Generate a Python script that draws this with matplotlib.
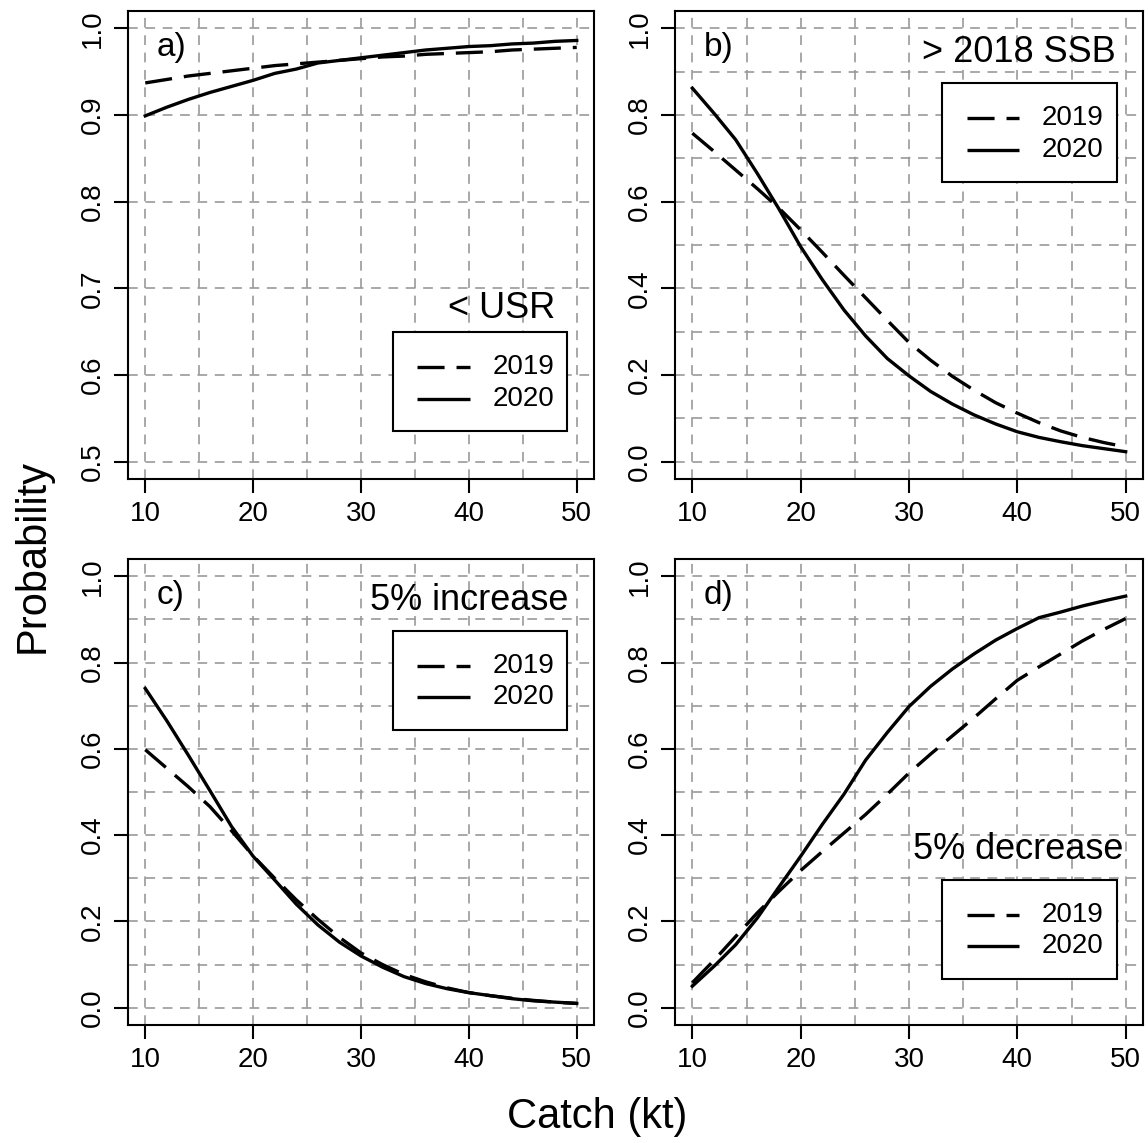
import numpy as np
import matplotlib
matplotlib.use("Agg")
import matplotlib.pyplot as plt
from matplotlib.patches import Rectangle

plt.rcParams['font.family'] = ['Liberation Sans', 'DejaVu Sans']
plt.rcParams['lines.scale_dashes'] = False

# Catch levels (kt)
catch = [10, 12, 14, 16, 18, 20, 22, 24, 26, 28, 30, 32, 34, 36, 38, 40, 42, 44, 46, 48, 50]

# a) probability of being below the upper stock reference
usr_2019 = [0.937, 0.941, 0.945, 0.948, 0.951, 0.954, 0.957, 0.959, 0.961, 0.963, 0.965,
            0.967, 0.968, 0.970, 0.971, 0.972, 0.973, 0.975, 0.976, 0.977, 0.978]
usr_2020 = [0.899, 0.909, 0.918, 0.926, 0.933, 0.940, 0.948, 0.953, 0.960, 0.963, 0.966,
            0.969, 0.972, 0.975, 0.977, 0.979, 0.980, 0.982, 0.983, 0.985, 0.986]

# b) probability of exceeding 2018 SSB
ssb_2019 = [0.758, 0.716, 0.673, 0.630, 0.585, 0.535, 0.483, 0.430, 0.378, 0.326, 0.275,
            0.234, 0.197, 0.165, 0.136, 0.112, 0.090, 0.071, 0.056, 0.044, 0.034]
ssb_2020 = [0.862, 0.804, 0.743, 0.665, 0.583, 0.496, 0.420, 0.350, 0.290, 0.238, 0.198,
            0.162, 0.133, 0.108, 0.087, 0.069, 0.056, 0.046, 0.037, 0.030, 0.023]

# c) probability of a 5% increase
inc_2019 = [0.598, 0.555, 0.512, 0.466, 0.410, 0.352, 0.300, 0.250, 0.205, 0.163, 0.127,
            0.100, 0.077, 0.060, 0.046, 0.035, 0.028, 0.022, 0.017, 0.013, 0.010]
inc_2020 = [0.740, 0.665, 0.585, 0.503, 0.420, 0.351, 0.296, 0.240, 0.192, 0.152, 0.120,
            0.094, 0.072, 0.056, 0.044, 0.035, 0.028, 0.021, 0.016, 0.013, 0.010]

# d) probability of a 5% decrease
dec_2019 = [0.058, 0.110, 0.165, 0.220, 0.270, 0.318, 0.362, 0.405, 0.448, 0.495, 0.544,
            0.588, 0.630, 0.672, 0.716, 0.759, 0.790, 0.820, 0.850, 0.877, 0.902]
dec_2020 = [0.050, 0.096, 0.146, 0.208, 0.280, 0.351, 0.425, 0.495, 0.574, 0.638, 0.698,
            0.745, 0.785, 0.820, 0.852, 0.879, 0.904, 0.917, 0.931, 0.943, 0.954]

years = ["2019", "2020"]
panel_tags = ["a)", "b)", "c)", "d)"]
panel_titles = ["< USR", "> 2018 SSB", "5% increase", "5% decrease"]
x_ticks = [10, 20, 30, 40, 50]
y_ticks_a = [0.5, 0.6, 0.7, 0.8, 0.9, 1.0]
y_ticks = [0.0, 0.2, 0.4, 0.6, 0.8, 1.0]

W, H = 1148, 1143
fig = plt.figure(figsize=(W / 100, H / 100), dpi=100)


def px_box(l, t, r, b):
    return [l / W, 1 - b / H, (r - l) / W, (b - t) / H]


DASH = (0, (19.5, 8.6))
GRID_DASH = (0, (7.0, 5.5))
LW = 2.4
TICK_FS = 20
KEY_FS = 20

panels = [
    dict(box=(128, 11, 594, 479), series=(usr_2019, usr_2020), ylim=(0.5, 1.0), yt=y_ticks_a,
         ygrid=np.arange(0.5, 1.001, 0.1), title_xy=(0.916, 0.365), key_xy=(0.569, 0.314)),
    dict(box=(675, 11, 1143, 479), series=(ssb_2019, ssb_2020), ylim=(0.0, 1.0), yt=y_ticks,
         ygrid=np.arange(0.0, 1.001, 0.1), title_xy=(0.942, 0.912), key_xy=(0.571, 0.846)),
    dict(box=(128, 559, 594, 1025), series=(inc_2019, inc_2020), ylim=(0.0, 1.0), yt=y_ticks,
         ygrid=np.arange(0.0, 1.001, 0.1), title_xy=(0.944, 0.912), key_xy=(0.569, 0.845)),
    dict(box=(675, 559, 1143, 1025), series=(dec_2019, dec_2020), ylim=(0.0, 1.0), yt=y_ticks,
         ygrid=np.arange(0.0, 1.001, 0.1), title_xy=(0.957, 0.376), key_xy=(0.571, 0.311)),
]


def draw_key(ax, x0, y1):
    """Boxed key with the two line styles, upper-left corner at (x0, y1) in axes fraction."""
    w, h = 0.373, 0.212
    ax.add_patch(Rectangle((x0, y1 - h), w, h, transform=ax.transAxes, facecolor="white",
                           edgecolor="black", linewidth=1.5, zorder=6))
    styles = [DASH, "-"]
    for i, (lab, ls) in enumerate(zip(years, styles)):
        yy = y1 - h * (0.35 + 0.32 * i)
        ax.plot([x0 + 0.14 * w, x0 + 0.44 * w], [yy, yy], transform=ax.transAxes, color="black",
                linestyle=ls, linewidth=LW, solid_capstyle="butt", dash_capstyle="butt", zorder=7)
        ax.text(x0 + 0.57 * w, yy, lab, transform=ax.transAxes, ha="left", va="center",
                fontsize=KEY_FS, zorder=7)


for p, tag, title in zip(panels, panel_tags, panel_titles):
    ax = fig.add_axes(px_box(*p["box"]))
    lo, hi = p["ylim"]
    ext = 0.04 * (hi - lo)
    ax.set_xlim(10 - 1.6, 50 + 1.6)
    ax.set_ylim(lo - ext, hi + ext)

    for gx in range(10, 51, 5):
        ax.axvline(gx, color="#999999", linewidth=1.2, linestyle=GRID_DASH, zorder=1)
    for gy in p["ygrid"]:
        ax.axhline(gy, color="#999999", linewidth=1.2, linestyle=GRID_DASH, zorder=1)

    s19, s20 = p["series"]
    ax.plot(catch, s19, color="black", linestyle=DASH, linewidth=LW, zorder=3)
    ax.plot(catch, s20, color="black", linestyle="-", linewidth=LW, zorder=3)

    ax.set_xticks(x_ticks)
    ax.set_xticklabels([str(v) for v in x_ticks])
    ax.set_yticks(p["yt"])
    ax.set_yticklabels([f"{v:.1f}" for v in p["yt"]])
    ax.tick_params(direction="out", length=10, width=1.5, labelsize=TICK_FS, pad=6)
    for lab in ax.get_yticklabels():
        lab.set_rotation(90)
        lab.set_va("center")
        lab.set_ha("right")
    for sp in ax.spines.values():
        sp.set_linewidth(1.5)

    ax.text(0.062, 0.921, tag, transform=ax.transAxes, ha="left", va="center", fontsize=24)
    ax.text(p["title_xy"][0], p["title_xy"][1], title, transform=ax.transAxes, ha="right",
            va="center", fontsize=26, zorder=5)
    draw_key(ax, *p["key_xy"])

fig.text(33 / W, 1 - 556 / H, "Probability", rotation=90, ha="center", va="center", fontsize=30)
fig.text(597 / W, 1 - 1117 / H, "Catch (kt)", ha="center", va="center", fontsize=30)

fig.savefig("out.png", dpi=100, facecolor="white")
